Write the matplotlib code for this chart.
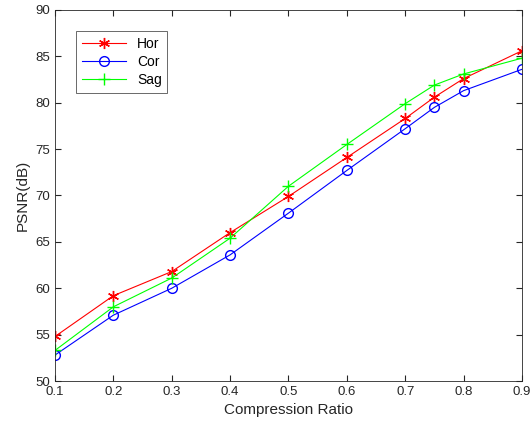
import matplotlib
matplotlib.use("Agg")
import matplotlib.pyplot as plt

plt.rcParams['font.family'] = ['Liberation Sans', 'DejaVu Sans']

ratio = [0.1, 0.2, 0.3, 0.4, 0.5, 0.6, 0.7, 0.75, 0.8, 0.9]
hor = [54.8, 59.2, 61.8, 66.0, 69.9, 74.1, 78.3, 80.6, 82.6, 85.6]
cor = [52.8, 57.1, 60.0, 63.6, 68.1, 72.7, 77.2, 79.5, 81.3, 83.6]
sag = [53.3, 58.0, 61.1, 65.4, 71.0, 75.5, 79.9, 81.9, 83.1, 84.8]
xticks = [0.1, 0.2, 0.3, 0.4, 0.5, 0.6, 0.7, 0.8, 0.9]
yticks = [50, 55, 60, 65, 70, 75, 80, 85, 90]

fig = plt.figure(figsize=(5.31, 4.32), dpi=100)
ax = fig.add_axes([0.1036, 0.118, 0.983 - 0.1036, 0.977 - 0.118])
ax.plot(ratio, hor, color='#ff0000', marker=(6, 2, 0), markersize=8, linewidth=0.8,
        markeredgewidth=1.0, label='Hor')
ax.plot(ratio, cor, color='#0000ff', marker='o', markersize=7, linewidth=0.8,
        markerfacecolor='none', label='Cor')
ax.plot(ratio, sag, color='#00ff00', marker='+', markersize=9, linewidth=0.8,
        label='Sag')
ax.set_xlim(0.1, 0.9)
ax.set_ylim(50, 90)
ax.set_xticks(xticks)
ax.set_xticklabels([f'{t:g}' for t in xticks])
ax.set_yticks(yticks)
ax.tick_params(direction='in', top=True, right=True, labelsize=9.5, colors='#262626', length=4)
for s in ax.spines.values():
    s.set_color('#262626')
    s.set_linewidth(0.6)
ax.set_xlabel('Compression Ratio', fontsize=11, color='#262626')
ax.set_ylabel('PSNR(dB)', fontsize=11, color='#262626')
leg = ax.legend(loc='upper left', bbox_to_anchor=(0.045, 0.943), borderaxespad=0,
                fancybox=False, edgecolor='#262626', fontsize=10, handlelength=3.2,
                borderpad=0.4, labelspacing=0.3)
leg.get_frame().set_linewidth(0.6)
fig.savefig('out.png', dpi=100)
